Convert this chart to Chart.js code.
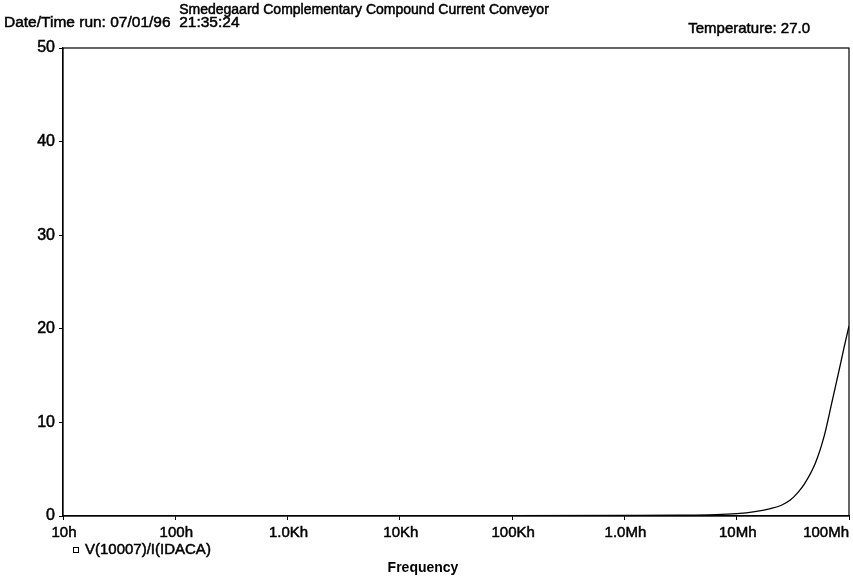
<!DOCTYPE html>
<html>
<head>
<meta charset="utf-8">
<script src="https://cdn.jsdelivr.net/npm/chart.js@4/dist/chart.umd.min.js"></script>
<style>
  html, body { margin: 0; padding: 0; background: #fff; }
  #plot { display: block; }
</style>
</head>
<body>
<canvas id="plot" width="853" height="577"></canvas>
<script>
// frequency sweep (Hz) and V(10007)/I(IDACA)
const freqs = [10, 100, 1e3, 1e4, 1e5, 1e6, 3e6, 1e7, 1.5e7, 2e7, 2.5e7, 3e7, 3.5e7, 4e7, 5e7, 6e7, 7e7, 8e7, 9e7, 1e8];
const values = [0.05, 0.05, 0.05, 0.05, 0.05, 0.06, 0.08, 0.25, 0.5, 0.8, 1.15, 1.7, 2.5, 3.4, 5.6, 8.5, 12.0, 15.1, 17.9, 20.3];

const xTickValues = [10, 100, 1e3, 1e4, 1e5, 1e6, 1e7, 1e8];
const xTickLabels = ["10h", "100h", "1.0Kh", "10Kh", "100Kh", "1.0Mh", "10Mh", "100Mh"];
const yTickValues = [0, 10, 20, 30, 40, 50];

const titleText = "Smedegaard Complementary Compound Current Conveyor";
const runText = "Date/Time run: 07/01/96  21:35:24";
const tempText = "Temperature: 27.0";
const seriesName = "V(10007)/I(IDACA)";
const xTitle = "Frequency";

const FONT = "'Liberation Sans', Arial, sans-serif";

// scanned printout text is heavier than plain Arial, so stroke it lightly
function heavyText(ctx, txt, x, y) {
  ctx.strokeText(txt, x, y);
  ctx.fillText(txt, x, y);
}

const textPlugin = {
  id: "pspiceText",
  afterDraw(chart) {
    const ctx = chart.ctx;
    const area = chart.chartArea;
    const xs = chart.scales.x;
    ctx.save();
    ctx.strokeStyle = "#000";
    ctx.lineWidth = 1.2;
    ctx.strokeRect(area.left, area.top, area.right - area.left, area.bottom - area.top);

    ctx.fillStyle = "#000";
    ctx.lineWidth = 0.5;
    ctx.textBaseline = "alphabetic";

    ctx.font = "14px " + FONT;
    ctx.textAlign = "center";
    heavyText(ctx, titleText, 364, 14);
    ctx.font = "15.5px " + FONT;
    ctx.textAlign = "left";
    heavyText(ctx, runText, 4, 27);
    ctx.font = "15px " + FONT;
    ctx.textAlign = "right";
    heavyText(ctx, tempText, 810, 33);

    // x tick labels, placed by the log scale
    xTickValues.forEach((v, i) => {
      const px = xs.getPixelForValue(v);
      const last = i === xTickValues.length - 1;
      ctx.textAlign = last ? "right" : "center";
      heavyText(ctx, xTickLabels[i], last ? px : px + 1, 537);
    });

    // legend
    ctx.lineWidth = 1;
    ctx.strokeRect(73.5, 547.5, 5, 5);
    ctx.lineWidth = 0.5;
    ctx.textAlign = "left";
    heavyText(ctx, seriesName, 85, 554);

    ctx.font = "bold 14px " + FONT;
    ctx.textAlign = "center";
    ctx.fillText(xTitle, 423, 572);
    ctx.restore();
  }
};

new Chart(document.getElementById("plot"), {
  type: "line",
  data: {
    datasets: [{
      label: seriesName,
      data: freqs.map((f, i) => ({ x: f, y: values[i] })),
      borderColor: "#000",
      borderWidth: 1.3,
      pointRadius: 0,
      cubicInterpolationMode: "monotone",
      fill: false
    }]
  },
  options: {
    responsive: false,
    animation: false,
    devicePixelRatio: 1,
    layout: { padding: { top: 48, right: 4, left: 0, bottom: 0 } },
    plugins: { legend: { display: false }, tooltip: { enabled: false } },
    scales: {
      x: {
        type: "logarithmic",
        min: 10,
        max: 1e8,
        afterBuildTicks: (s) => { s.ticks = xTickValues.map((v) => ({ value: v })); },
        afterFit: (s) => { s.height = 61; s.paddingLeft = 0; s.paddingRight = 0; },
        ticks: { display: false },
        grid: { drawOnChartArea: false, tickLength: 4, color: "#000" },
        border: { color: "#000", width: 1.2 }
      },
      y: {
        min: 0,
        max: 50,
        afterBuildTicks: (s) => { s.ticks = yTickValues.map((v) => ({ value: v })); },
        afterFit: (s) => { s.width = 63; },
        ticks: {
          color: "#000",
          font: { family: FONT, size: 16 },
          padding: 4,
          textStrokeColor: "#000",
          textStrokeWidth: 0.5
        },
        grid: { drawOnChartArea: false, tickLength: 4, color: "#000" },
        border: { color: "#000", width: 1.2 }
      }
    }
  },
  plugins: [textPlugin]
});
</script>
</body>
</html>
